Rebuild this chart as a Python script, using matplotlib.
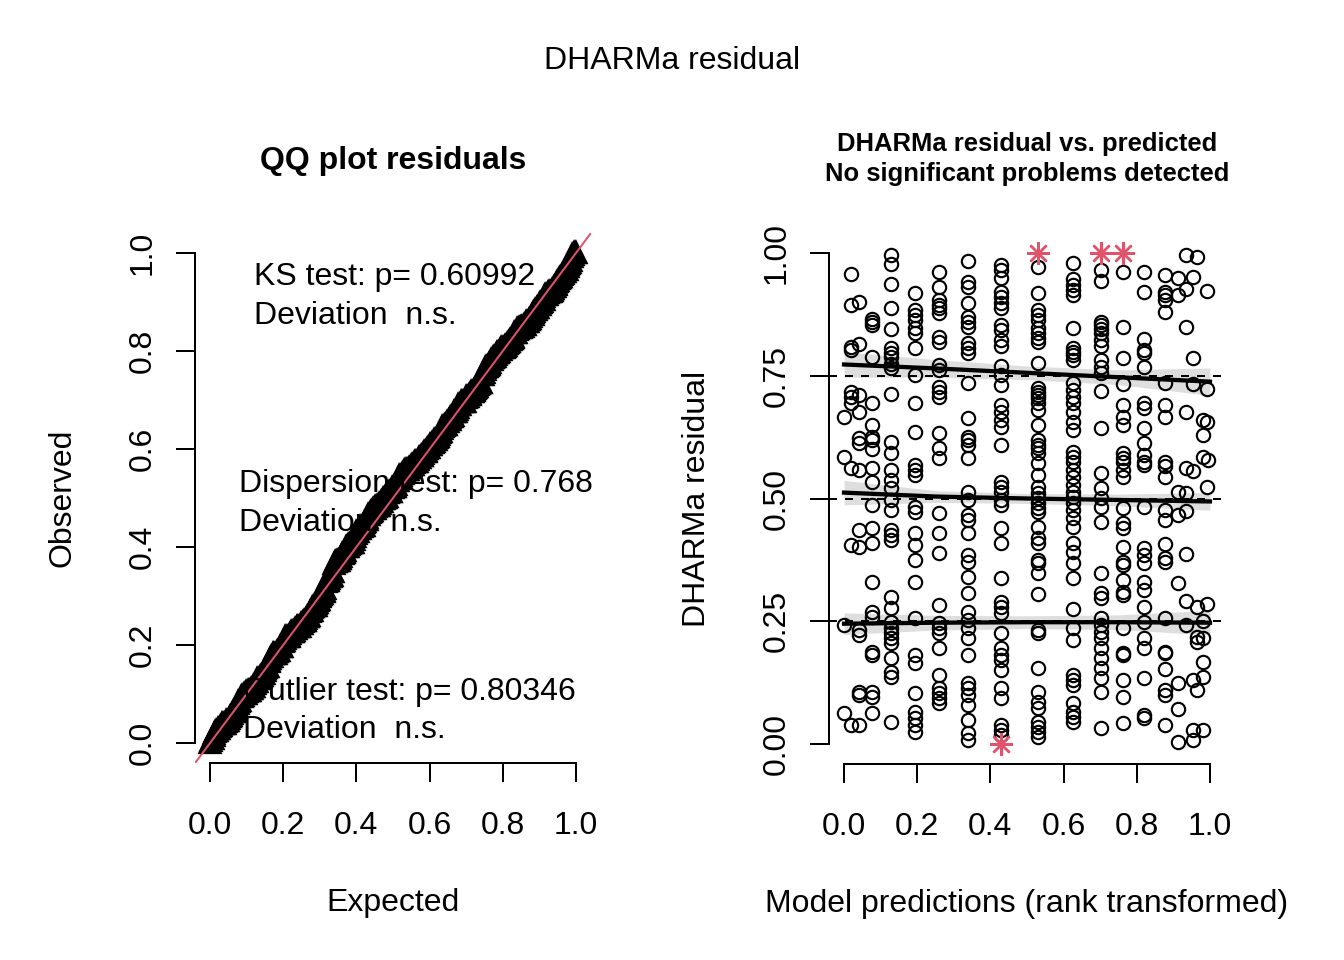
"""
DHARMa residual diagnostics: QQ plot and residual vs. predicted
"""
import matplotlib
matplotlib.use('Agg')
import matplotlib.pyplot as plt
import numpy as np

plt.rcParams['font.family'] = ['Liberation Sans', 'DejaVu Sans']
plt.rcParams['font.size'] = 12

R_RED = '#DF536B'

# scaled residuals, grouped by tied rank of the model prediction
col_x = [0.0, 0.019, 0.041, 0.077, 0.128, 0.194, 0.260, 0.339,
         0.429, 0.530, 0.626, 0.702, 0.762, 0.820, 0.877]
col_y = [
    [0.667, 0.585, 0.242, 0.063],
    [0.957, 0.894, 0.808, 0.802, 0.717, 0.707, 0.695, 0.562, 0.405, 0.039],
    [0.900, 0.815, 0.711, 0.676, 0.623, 0.613, 0.558, 0.436, 0.401, 0.232,
     0.222, 0.106, 0.100, 0.039],
    [0.866, 0.859, 0.853, 0.788, 0.695, 0.650, 0.625, 0.619, 0.601, 0.562,
     0.534, 0.487, 0.440, 0.409, 0.330, 0.269, 0.259, 0.187, 0.181, 0.106,
     0.096, 0.063],
    [0.995, 0.978, 0.937, 0.888, 0.845, 0.807, 0.796, 0.788, 0.774, 0.766,
     0.713, 0.615, 0.593, 0.558, 0.538, 0.521, 0.497, 0.477, 0.436, 0.426,
     0.415, 0.299, 0.277, 0.248, 0.236, 0.226, 0.216, 0.206, 0.175, 0.147,
     0.136, 0.045],
    [0.918, 0.884, 0.874, 0.864, 0.847, 0.837, 0.807, 0.752, 0.695, 0.635,
     0.568, 0.558, 0.548, 0.483, 0.472, 0.430, 0.405, 0.375, 0.330, 0.257,
     0.181, 0.165, 0.104, 0.065, 0.053, 0.039, 0.024],
    [0.961, 0.931, 0.904, 0.894, 0.888, 0.878, 0.829, 0.819, 0.772, 0.762,
     0.727, 0.717, 0.707, 0.633, 0.603, 0.582, 0.470, 0.430, 0.389, 0.283,
     0.246, 0.236, 0.226, 0.196, 0.141, 0.114, 0.104, 0.094, 0.084],
    [0.984, 0.941, 0.931, 0.898, 0.870, 0.859, 0.849, 0.817, 0.807, 0.796,
     0.735, 0.664, 0.625, 0.619, 0.609, 0.582, 0.513, 0.497, 0.466, 0.456,
     0.430, 0.385, 0.371, 0.340, 0.308, 0.269, 0.253, 0.236, 0.216, 0.181,
     0.124, 0.114, 0.100, 0.079, 0.049, 0.022, 0.008],
    [0.976, 0.965, 0.949, 0.921, 0.910, 0.898, 0.888, 0.853, 0.843, 0.823,
     0.811, 0.770, 0.752, 0.731, 0.690, 0.676, 0.660, 0.646, 0.609, 0.534,
     0.523, 0.513, 0.497, 0.487, 0.440, 0.409, 0.338, 0.289, 0.279, 0.267,
     0.226, 0.196, 0.181, 0.171, 0.151, 0.114, 0.094, 0.039, 0.029, 0.018],
    [0.971, 0.918, 0.884, 0.874, 0.864, 0.847, 0.837, 0.827, 0.819, 0.776,
     0.725, 0.717, 0.711, 0.705, 0.695, 0.680, 0.650, 0.619, 0.609, 0.603,
     0.593, 0.572, 0.548, 0.523, 0.511, 0.501, 0.491, 0.481, 0.472, 0.442,
     0.420, 0.409, 0.375, 0.369, 0.348, 0.305, 0.232, 0.226, 0.155, 0.106,
     0.086, 0.073, 0.045, 0.035, 0.024, 0.014],
    [0.980, 0.947, 0.935, 0.925, 0.914, 0.847, 0.807, 0.798, 0.792, 0.782,
     0.735, 0.721, 0.707, 0.695, 0.676, 0.656, 0.640, 0.595, 0.585, 0.574,
     0.558, 0.544, 0.527, 0.513, 0.503, 0.491, 0.477, 0.460, 0.442, 0.409,
     0.391, 0.369, 0.338, 0.275, 0.236, 0.212, 0.141, 0.130, 0.120, 0.084,
     0.065, 0.055, 0.045],
    [0.965, 0.943, 0.859, 0.853, 0.845, 0.837, 0.823, 0.811, 0.782, 0.768,
     0.756, 0.719, 0.644, 0.552, 0.521, 0.501, 0.483, 0.452, 0.348, 0.308,
     0.297, 0.257, 0.242, 0.228, 0.216, 0.196, 0.175, 0.155, 0.134, 0.106,
     0.033],
    [0.961, 0.849, 0.786, 0.733, 0.690, 0.666, 0.650, 0.593, 0.582, 0.574,
     0.558, 0.544, 0.481, 0.450, 0.440, 0.401, 0.371, 0.365, 0.334, 0.310,
     0.303, 0.236, 0.185, 0.181, 0.130, 0.096, 0.043],
    [0.961, 0.921, 0.825, 0.802, 0.796, 0.768, 0.695, 0.684, 0.644, 0.613,
     0.589, 0.574, 0.568, 0.483, 0.399, 0.385, 0.369, 0.330, 0.314, 0.279,
     0.248, 0.216, 0.196, 0.134, 0.059, 0.053],
    [0.955, 0.921, 0.914, 0.904, 0.880, 0.735, 0.690, 0.666, 0.574, 0.566,
     0.544, 0.477, 0.456, 0.407, 0.379, 0.371, 0.257, 0.187, 0.185, 0.153,
     0.110, 0.100, 0.039],
]
# untied predictions at the upper end
loose_x = [0.913, 0.934, 0.965, 0.953, 0.934, 0.913, 0.993, 0.934, 0.953,
           0.953, 0.993, 0.934, 0.980, 0.991, 0.980, 0.980, 0.996, 0.934,
           0.953, 0.991, 0.913, 0.934, 0.913, 0.934, 0.934, 0.913, 0.934,
           0.965, 0.993, 0.980, 0.934, 0.965, 0.980, 0.965, 0.980, 0.980,
           0.913, 0.953, 0.965, 0.913, 0.953, 0.980, 0.913, 0.953]
loose_y = [0.949, 0.996, 0.992, 0.951, 0.927, 0.914, 0.923, 0.849, 0.786,
           0.733, 0.723, 0.676, 0.660, 0.656, 0.629, 0.585, 0.578, 0.562,
           0.556, 0.523, 0.513, 0.511, 0.466, 0.474, 0.387, 0.328, 0.291,
           0.279, 0.285, 0.250, 0.242, 0.218, 0.216, 0.208, 0.167, 0.136,
           0.124, 0.130, 0.110, 0.071, 0.029, 0.029, 0.004, 0.008]
outlier_x = [0.429, 0.530, 0.702, 0.762]
outlier_y = [0.0, 1.0, 1.0, 1.0]

# quantile regression fits (0.25, 0.5, 0.75) and band half widths
quant_x = [0.0, 0.25, 0.5, 0.75, 1.0]
q25 = [0.245, 0.247, 0.248, 0.248, 0.247]
q25_hw = [0.022, 0.015, 0.013, 0.015, 0.025]
q50 = [0.512, 0.504, 0.500, 0.497, 0.494]
q50_hw = [0.025, 0.012, 0.010, 0.012, 0.018]
q75 = [0.773, 0.765, 0.756, 0.747, 0.738]
q75_hw = [0.026, 0.018, 0.014, 0.015, 0.028]

res_x = np.concatenate([[x] * len(ys) for x, ys in zip(col_x, col_y)]
                       + [loose_x])
res_y = np.concatenate(col_y + [loose_y])

fig = plt.figure(figsize=(7, 5), dpi=192)
ax1 = fig.add_axes([195.4 / 1344, 1 - 762.6 / 960, 395.2 / 1344, 529.2 / 960])
ax2 = fig.add_axes([829.4 / 1344, 1 - 763.6 / 960, 395.2 / 1344, 530.2 / 960])


def r_axes(ax, xt, yt, xfmt, yfmt):
    ax.set_xlim(-0.04, 1.04)
    ax.set_ylim(-0.04, 1.04)
    for s in ('top', 'right'):
        ax.spines[s].set_visible(False)
    ax.spines['bottom'].set_bounds(xt[0], xt[-1])
    ax.spines['left'].set_bounds(yt[0], yt[-1])
    for s in ('bottom', 'left'):
        ax.spines[s].set_linewidth(0.75)
    ax.set_xticks(xt, [xfmt % v for v in xt])
    ax.set_yticks(yt, [yfmt % v for v in yt])
    ax.tick_params(direction='out', length=7.2, width=0.75, labelsize=12)
    ax.tick_params(axis='x', pad=11)
    ax.tick_params(axis='y', pad=7)
    plt.setp(ax.get_yticklabels(), rotation=90, va='center')


# QQ plot (all residuals incl. outliers)
qq_obs = np.sort(np.concatenate([res_y, outlier_y]))
qq_exp = (np.arange(1, len(qq_obs) + 1) - 0.5) / len(qq_obs)
ax1.plot(qq_exp, qq_obs, ls='none', marker='^', ms=7, mfc='none',
         mec='black', mew=1.6)
ax1.axline((0, 0), slope=1, color=R_RED, lw=0.75)
r_axes(ax1, [0, 0.2, 0.4, 0.6, 0.8, 1.0], [0, 0.2, 0.4, 0.6, 0.8, 1.0],
       '%.1f', '%.1f')
ax1.text(0.120, 0.951, 'KS test: p= 0.60992', va='center')
ax1.text(0.120, 0.872, 'Deviation  n.s.', va='center')
ax1.text(0.079, 0.529, 'Dispersion test: p= 0.768', va='center')
ax1.text(0.079, 0.449, 'Deviation  n.s.', va='center')
ax1.text(0.090, 0.104, 'Outlier test: p= 0.80346', va='center')
ax1.text(0.090, 0.027, 'Deviation  n.s.', va='center')
ax1.set_xlabel('Expected', va='center')
ax1.xaxis.set_label_coords(0.5, -0.266)
ax1.set_ylabel('Observed', va='center')
ax1.yaxis.set_label_coords(-0.336, 0.5)

# residual vs. predicted
ax2.plot(res_x, res_y, ls='none', marker='o', ms=5, mfc='none',
         mec='black', mew=0.8)
ax2.plot(outlier_x, outlier_y, ls='none', marker=(8, 2, 0), ms=8.5,
         mec=R_RED, mew=0.9)
for q, hw in ((q25, q25_hw), (q50, q50_hw), (q75, q75_hw)):
    q = np.array(q)
    hw = np.array(hw)
    ax2.fill_between(quant_x, q - hw, q + hw, color='black', alpha=0.13, lw=0)
    ax2.plot(quant_x, q, color='black', lw=1.6)
for h in (0.25, 0.5, 0.75):
    ax2.axhline(h, color='black', lw=0.75, ls=(0, (4, 4)))
r_axes(ax2, [0, 0.2, 0.4, 0.6, 0.8, 1.0], [0, 0.25, 0.5, 0.75, 1.0],
       '%.1f', '%.2f')
ax2.set_xlabel('Model predictions (rank transformed)', va='center')
ax2.xaxis.set_label_coords(0.5, -0.265)
ax2.set_ylabel('DHARMa residual', va='center')
ax2.yaxis.set_label_coords(-0.335, 0.5)

fig.text(393 / 1344, 1 - 161 / 960, 'QQ plot residuals', ha='center',
         va='center', fontsize=12, fontweight='bold')
fig.text(1027 / 1344, 1 - 159 / 960,
         'DHARMa residual vs. predicted\nNo significant problems detected',
         ha='center', va='center', fontsize=9.6, fontweight='bold',
         linespacing=1.33)
fig.text(0.5, 1 - 61 / 960, 'DHARMa residual', ha='center', va='center',
         fontsize=12)

fig.savefig('out.png', dpi=192)
